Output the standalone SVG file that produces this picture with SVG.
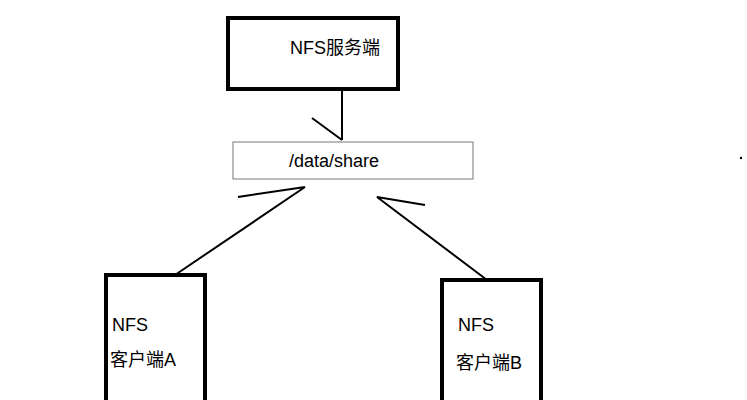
<svg xmlns="http://www.w3.org/2000/svg" width="747" height="400" viewBox="0 0 747 400">
<style>
.t{font-family:"Liberation Sans","Noto Sans CJK SC",sans-serif;font-size:18px;fill:#000}
.thick{fill:#fff;stroke:#000;stroke-width:4}
.ln{stroke:#000;stroke-width:2;fill:none}
</style>
<rect width="747" height="400" fill="#fff"/>
<g id="server"><rect class="thick" x="228" y="18" width="170" height="71"/><text class="t" x="290" y="54">NFS服务端</text></g>
<g id="share"><rect x="233" y="142" width="240" height="37" fill="#fff" stroke="#777" stroke-width="1"/><text class="t" x="289" y="167">/data/share</text></g>
<g id="clientA"><rect class="thick" x="106" y="275" width="99" height="130"/><text class="t" x="112" y="331">NFS</text><text class="t" x="110" y="366">客户端A</text></g>
<g id="clientB"><rect class="thick" x="442" y="280" width="99" height="125"/><text class="t" x="458" y="331">NFS</text><text class="t" x="456" y="369">客户端B</text></g>
<g id="connectors">
<path class="ln" d="M342 89V140M312 118L342 140"/>
<path class="ln" d="M175 275L305 187M238 197L305 187"/>
<path class="ln" d="M487 280L377 197L425 205"/>
</g>
<circle cx="741" cy="158" r="1.2" fill="#000"/>
</svg>
